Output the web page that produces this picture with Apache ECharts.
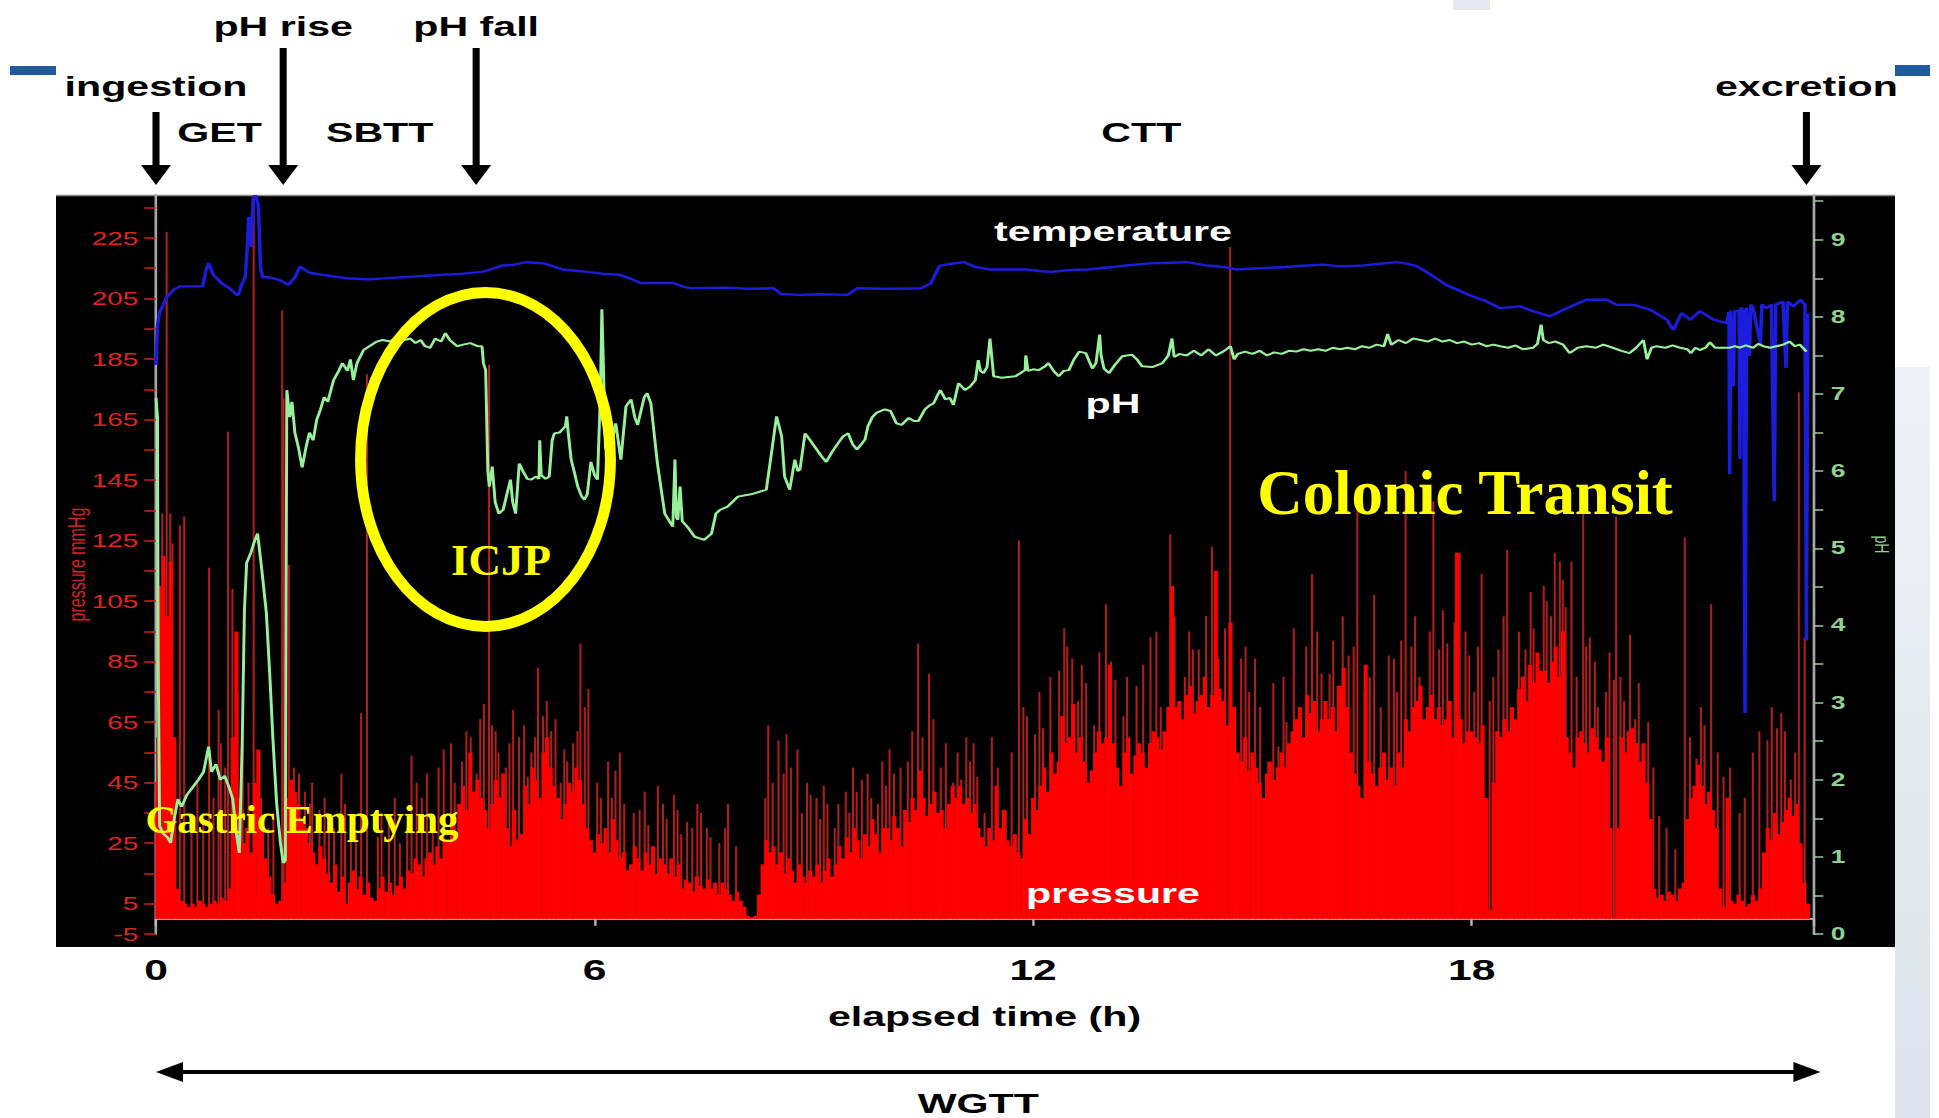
<!DOCTYPE html>
<html>
<head>
<meta charset="utf-8">
<title>Wireless motility capsule recording</title>
<script src="https://cdn.jsdelivr.net/npm/echarts@6/dist/echarts.min.js"></script>
<style>
  html, body { margin: 0; padding: 0; background: #ffffff; overflow: hidden; }
  #chart { position: absolute; left: 0; top: 0; height: 1118px; transform-origin: 0 0; }
</style>
</head>
<body>
<div id="chart"></div>
<script>
// ---- recording data -------------------------------------------------------
// elapsed time axis (h)
const timeMax = 22.67;
const timeTickLabels = [0, 6, 12, 18];
const timeTicks = [0, 6, 12, 18, 22.67];

// pressure axis (mmHg)
const pressureMin = -5;
const pressureMax = 239.2;
const pressureTicks = [-5, 5, 15, 25, 35, 45, 55, 65, 75, 85, 95, 105, 115, 125, 135, 145, 155, 165, 175, 185, 195, 205, 215, 225, 235];
const pressureTickLabels = [-5, 5, 25, 45, 65, 85, 105, 125, 145, 165, 185, 205, 225];

// pH axis
const phMin = 0;
const phMax = 9.58;
const phTicks = [0, 0.5, 1, 1.5, 2, 2.5, 3, 3.5, 4, 4.5, 5, 5.5, 6, 6.5, 7, 7.5, 8, 8.5, 9, 9.5];
const phTickLabels = [0, 1, 2, 3, 4, 5, 6, 7, 8, 9];

// transit landmarks: [label, time (h), label row]
const transitEvents = [
  ['ingestion', 0, 'low'],
  ['pH rise', 1.74, 'high'],
  ['pH fall', 4.38, 'high'],
  ['excretion', 22.58, 'low']
];
const transitPhases = ['GET', 'SBTT', 'CTT'];

// pressure baseline activity, one reading every 3 min (mmHg)
const pressureStart = 0;
const pressureStep = 0.05;
const pressureSamples = [
  45,110,120,100,118,60,10,6,5,4,5,4,6,5,4,5,6,5,7,6,
  10,60,95,40,25,30,22,45,56,30,20,14,8,5,6,12,40,46,42,38,
  33,30,25,22,18,24,20,15,12,18,9,14,5,12,16,10,14,8,12,7,
  6,10,14,9,12,8,11,14,10,16,15,20,18,14,20,22,18,24,20,26,
  26,33,28,38,44,36,55,42,46,40,36,30,38,46,40,48,30,24,36,26,
  28,44,38,50,46,40,55,60,50,44,40,33,38,45,42,50,46,38,30,26,
  22,28,25,30,22,33,26,20,22,16,18,24,20,16,22,18,24,15,20,18,
  15,20,14,18,10,13,12,9,14,11,10,13,10,12,8,12,10,8,6,9,
  6,4,1,0.5,1,8,18,26,22,24,18,22,15,20,16,12,18,14,12,16,
  14,18,12,16,20,14,18,24,20,27,22,30,26,20,28,24,33,28,22,30,
  30,26,34,30,24,36,32,40,36,49,40,34,38,42,35,36,30,38,44,40,
  44,38,40,35,38,30,27,24,30,26,44,30,36,26,24,28,22,20,33,28,
  40,36,44,50,42,55,48,52,67,58,60,71,55,60,52,45,49,55,62,58,
  60,84,58,50,44,55,60,48,54,58,55,50,58,62,60,56,62,70,110,70,
  72,66,74,77,68,72,74,80,70,74,115,76,72,64,98,70,55,52,60,49,
  55,50,45,40,48,52,46,50,55,50,58,62,66,70,60,74,68,72,62,66,
  72,66,70,62,77,83,70,55,48,44,40,84,52,48,44,50,55,46,50,44,
  55,50,66,62,70,72,77,66,70,74,66,70,64,66,72,60,121,66,58,62,
  62,60,58,64,40,3,45,62,60,66,62,70,66,76,80,72,84,78,88,82,
  82,78,85,90,80,95,60,55,50,60,62,58,55,63,60,56,52,60,30,0.5,
  30,60,55,62,63,58,52,58,45,33,10,7,8,6,9,8,6,10,12,33,
  40,44,51,44,38,42,36,30,10,4,40,6,5,8,6,4,5,8,6,10,
  22,30,26,35,28,32,36,40,34,38,25,12,5
];

// individual contraction peaks [h, mmHg]
const pressurePeaks = [
  [0.03,60],[0.1,134],[0.16,227],[0.21,134],[0.24,124],[0.34,130],[0.4,133],[0.5,30],[0.58,45],[0.66,35],[0.74,116],[0.8,40],[0.87,69],[0.9,58],[0.96,50],[1.0,161],[1.06,109],
  [1.13,75],[1.2,60],[1.28,45],[1.35,245],[1.45,40],[1.55,30],[1.62,35],[1.74,201],[1.76,172],[1.83,117],[1.9,50],[1.97,48],[2.05,42],[2.12,38],[2.15,45],[2.25,36],[2.32,40],
  [2.38,34],[2.45,30],[2.55,48],[2.6,38],[2.68,30],[2.75,28],[2.82,68],[2.9,180],[3.05,27],[3.1,35],[3.2,33],[3.28,40],[3.35,25],[3.45,30],[3.51,54],[3.58,45],[3.65,40],
  [3.72,48],[3.8,33],[3.88,50],[3.95,56],[4.05,58],[4.1,45],[4.2,52],[4.26,62],[4.32,60],[4.4,48],[4.45,66],[4.5,71],[4.57,183],[4.61,64],[4.66,62],[4.7,55],[4.8,50],[4.85,58],
  [4.9,69],[4.98,60],[5.05,64],[5.1,47],[5.15,55],[5.2,60],[5.24,83],[5.31,67],[5.36,72],[5.42,62],[5.48,66],[5.55,45],[5.6,56],[5.64,52],[5.72,58],[5.78,62],[5.82,91],
  [5.88,70],[5.93,76],[6.05,45],[6.1,40],[6.2,52],[6.25,40],[6.3,49],[6.36,55],[6.42,38],[6.55,35],[6.63,36],[6.7,42],[6.75,31],[6.88,44],[6.95,38],[7.0,33],[7.1,41],
  [7.15,36],[7.2,28],[7.28,32],[7.35,30],[7.42,38],[7.47,35],[7.55,30],[7.6,27],[7.72,25],[7.8,30],[7.84,38],[7.95,24],[8.35,40],[8.39,64],[8.45,45],[8.53,59],[8.6,48],
  [8.64,61],[8.7,50],[8.79,56],[8.85,35],[8.92,45],[8.97,41],[9.05,40],[9.1,33],[9.15,44],[9.2,38],[9.3,30],[9.35,38],[9.45,42],[9.5,35],[9.55,50],[9.6,42],[9.67,46],
  [9.75,48],[9.8,40],[9.89,38],[9.95,52],[10.0,44],[10.05,56],[10.11,48],[10.2,50],[10.3,52],[10.36,62],[10.44,91],[10.5,60],[10.59,81],[10.65,66],[10.75,50],[10.82,58],
  [10.92,45],[10.98,55],[11.03,46],[11.1,60],[11.15,52],[11.2,58],[11.25,47],[11.35,35],[11.45,60],[11.53,50],[11.64,36],[11.72,55],[11.82,125],[11.88,70],[11.93,67],
  [12.04,61],[12.1,75],[12.15,63],[12.25,80],[12.37,82],[12.44,96],[12.48,90],[12.55,86],[12.63,72],[12.68,84],[12.74,78],[12.85,64],[12.92,88],[13.01,104],[13.08,85],
  [13.14,79],[13.25,67],[13.3,80],[13.43,77],[13.52,84],[13.62,93],[13.7,95],[13.76,70],[13.89,127],[13.95,100],[14.09,80],[14.15,95],[14.2,89],[14.28,89],[14.38,100],
  [14.46,123],[14.55,86],[14.64,96],[14.71,222],[14.86,86],[14.92,90],[14.97,75],[15.05,86],[15.12,70],[15.23,52],[15.3,78],[15.37,57],[15.44,80],[15.48,65],[15.58,96],
  [15.67,66],[15.75,90],[15.83,114],[15.9,95],[15.96,81],[16.07,81],[16.12,92],[16.18,77],[16.25,100],[16.33,87],[16.4,90],[16.45,138],[16.55,75],[16.62,80],[16.68,107],
  [16.77,70],[16.88,87],[16.95,86],[16.99,75],[17.05,92],[17.11,148],[17.19,90],[17.24,100],[17.3,80],[17.39,66],[17.44,95],[17.49,138],[17.57,89],[17.62,102],[17.68,91],
  [17.78,98],[17.85,121],[17.93,95],[17.98,87],[18.05,75],[18.1,90],[18.15,114],[18.26,72],[18.31,80],[18.38,89],[18.45,100],[18.5,122],[18.6,63],[18.66,95],[18.75,89],
  [18.82,108],[18.86,96],[18.93,76],[19.0,110],[19.04,105],[19.1,100],[19.15,121],[19.22,118],[19.26,112],[19.3,103],[19.38,118],[19.45,80],[19.54,135],[19.58,90],[19.63,93],
  [19.7,85],[19.74,70],[19.85,75],[19.9,88],[19.96,79],[19.99,133],[20.05,80],[20.1,72],[20.18,94],[20.25,66],[20.3,78],[20.43,65],[20.5,50],[20.58,34],[20.68,30],[20.8,23],
  [20.93,126],[21.0,60],[21.09,53],[21.15,70],[21.2,64],[21.29,104],[21.38,55],[21.46,47],[21.55,50],[21.68,35],[21.75,40],[21.86,55],[21.95,62],[22.06,59],[22.12,70],
  [22.19,63],[22.25,68],[22.3,62],[22.38,46],[22.44,55],[22.49,174],[22.57,93]
];

// capsule temperature, plotted against the pressure scale [h, value]
const temperatureTrace = [
  [0,183],[0.02,196],[0.05,200.6],[0.1,203],[0.15,205.6],[0.25,208],[0.33,209],[0.5,209],[0.64,209],[0.68,214],[0.72,216.7],[0.78,213],[0.9,210],[1.0,208.5],[1.12,206],
  [1.18,210],[1.22,212],[1.25,222],[1.27,232],[1.3,222],[1.33,238],[1.36,239],[1.4,236],[1.43,215],[1.46,212],[1.55,212],[1.7,211],[1.81,209.5],[1.9,212],[1.97,215.5],
  [2.1,213.5],[2.26,212.9],[2.6,211.7],[2.94,211.3],[3.2,211.8],[3.45,212.1],[3.7,212.5],[3.96,212.9],[4.2,213.2],[4.46,213.8],[4.6,214.8],[4.72,215.8],[4.9,216.2],[5.06,217],
  [5.31,216.6],[5.45,215.5],[5.56,214.6],[5.9,213.8],[6.1,213.2],[6.33,212.9],[6.5,211.5],[6.63,210.1],[7.08,210.1],[7.2,209],[7.31,208.4],[7.8,208.6],[8.1,208.2],[8.45,208.4],
  [8.55,206.5],[8.8,206.2],[9.1,206.4],[9.46,206.2],[9.6,208.4],[10.0,208.2],[10.47,208.4],[10.6,210],[10.72,215.8],[10.85,216.4],[11.06,217],[11.2,215.5],[11.4,214.6],
  [11.91,214.6],[12.1,214],[12.25,213.8],[12.5,214.4],[12.75,214.6],[13.09,215.4],[13.3,216],[13.6,216.6],[13.85,216.8],[14.1,217],[14.35,216],[14.61,215.4],[14.78,214.6],
  [15.1,215],[15.46,215.4],[15.7,215.8],[15.97,216.2],[16.2,215.6],[16.47,215.8],[16.7,216.4],[16.98,217],[17.1,216.5],[17.24,215.8],[17.4,213.5],[17.49,212.1],[17.65,209.5],
  [17.83,207.6],[18.0,205.8],[18.17,204.4],[18.39,201.8],[18.66,202.4],[18.84,200.8],[19.07,199.1],[19.3,201.8],[19.57,204.6],[19.85,204.6],[19.98,202.9],[20.21,202.9],
  [20.44,201.3],[20.67,198],[20.76,194.6],[20.87,200.2],[20.99,198],[21.12,200.8],[21.31,198],[21.49,196.9],[21.52,200.5],[21.53,147],[21.545,201],[21.58,176],[21.6,200.8],
  [21.66,201],[21.67,152],[21.685,202],[21.72,201],[21.74,68],[21.76,202],[21.8,186],[21.82,203],[21.85,201.8],[21.95,190],[21.97,203],[22.03,201.8],[22.1,203],[22.14,138],
  [22.16,203],[22.26,204],[22.3,182],[22.32,204],[22.4,202.4],[22.5,204.6],[22.56,203],[22.58,92],[22.6,200]
];

// luminal pH [h, pH]
const phTrace = [
  [0,6.95],[0.02,6.7],[0.03,3.5],[0.05,1.4],[0.1,1.3],[0.16,1.25],[0.2,1.18],[0.25,1.5],[0.3,1.75],[0.35,1.65],[0.42,1.8],[0.5,1.9],[0.58,2.0],[0.65,2.1],[0.72,2.43],[0.76,2.1],
  [0.82,2.2],[0.88,2.0],[0.94,2.05],[1.0,1.9],[1.05,1.75],[1.1,1.3],[1.14,1.05],[1.18,2.5],[1.21,4.2],[1.24,4.81],[1.3,4.95],[1.35,5.1],[1.39,5.19],[1.45,4.7],[1.51,4.16],
  [1.56,3.3],[1.6,2.52],[1.65,1.7],[1.7,1.2],[1.74,0.92],[1.77,0.95],[1.78,4.5],[1.79,7.05],[1.83,6.7],[1.86,6.9],[1.9,6.5],[1.95,6.3],[2.0,6.05],[2.05,6.3],[2.1,6.5],
  [2.15,6.4],[2.2,6.67],[2.25,6.8],[2.3,6.96],[2.35,6.9],[2.43,7.18],[2.5,7.3],[2.55,7.4],[2.62,7.3],[2.66,7.45],[2.7,7.18],[2.75,7.4],[2.84,7.57],[2.92,7.62],[3.02,7.68],
  [3.1,7.7],[3.2,7.68],[3.3,7.74],[3.4,7.7],[3.48,7.72],[3.55,7.66],[3.62,7.7],[3.68,7.62],[3.75,7.6],[3.82,7.72],[3.9,7.68],[3.96,7.79],[4.02,7.7],[4.12,7.62],[4.2,7.64],
  [4.3,7.66],[4.4,7.62],[4.46,7.62],[4.48,7.4],[4.51,7.31],[4.54,6.0],[4.56,5.8],[4.6,6.06],[4.64,5.6],[4.69,5.45],[4.75,5.5],[4.8,5.7],[4.85,5.89],[4.88,5.6],[4.92,5.45],
  [4.97,6.1],[5.02,6.0],[5.08,5.9],[5.13,5.89],[5.2,5.93],[5.24,5.9],[5.25,6.4],[5.27,5.95],[5.33,5.9],[5.38,5.93],[5.42,6.4],[5.45,6.49],[5.52,6.5],[5.6,6.58],[5.62,6.71],
  [5.64,6.5],[5.68,6.15],[5.72,6.0],[5.77,5.8],[5.82,5.68],[5.86,5.63],[5.9,5.7],[5.95,6.12],[6.0,5.95],[6.04,5.89],[6.08,7.0],[6.1,8.1],[6.12,7.4],[6.15,6.3],[6.2,6.2],
  [6.29,6.62],[6.36,6.15],[6.43,6.84],[6.5,6.93],[6.55,6.7],[6.59,6.6],[6.64,6.8],[6.68,6.96],[6.72,7.01],[6.77,6.88],[6.86,6.1],[6.96,5.45],[7.07,5.28],[7.1,6.15],[7.12,5.4],
  [7.14,5.37],[7.17,5.8],[7.2,5.35],[7.27,5.28],[7.37,5.15],[7.5,5.11],[7.6,5.19],[7.66,5.45],[7.72,5.5],[7.82,5.54],[7.96,5.67],[8.14,5.7],[8.35,5.76],[8.42,6.23],[8.49,6.71],
  [8.52,6.6],[8.56,6.45],[8.6,5.93],[8.67,5.76],[8.74,6.15],[8.78,6.0],[8.81,6.02],[8.88,6.49],[8.95,6.4],[9.01,6.32],[9.1,6.2],[9.17,6.12],[9.25,6.25],[9.33,6.36],[9.4,6.45],
  [9.47,6.49],[9.53,6.35],[9.59,6.28],[9.65,6.35],[9.7,6.41],[9.74,6.58],[9.8,6.7],[9.86,6.76],[9.97,6.8],[10.05,6.78],[10.13,6.62],[10.2,6.6],[10.3,6.69],[10.37,6.65],
  [10.43,6.65],[10.52,6.8],[10.58,6.85],[10.64,6.88],[10.7,7.0],[10.73,7.05],[10.8,6.93],[10.86,6.95],[10.91,6.86],[10.98,7.14],[11.07,7.05],[11.14,7.1],[11.21,7.18],
  [11.25,7.44],[11.28,7.3],[11.32,7.27],[11.37,7.35],[11.41,7.72],[11.46,7.23],[11.57,7.21],[11.66,7.22],[11.76,7.23],[11.84,7.28],[11.89,7.31],[11.9,7.5],[11.93,7.3],
  [12.0,7.32],[12.08,7.31],[12.15,7.35],[12.21,7.4],[12.28,7.3],[12.35,7.23],[12.42,7.3],[12.49,7.31],[12.56,7.45],[12.63,7.55],[12.72,7.53],[12.81,7.33],[12.86,7.4],
  [12.91,7.77],[12.93,7.5],[12.97,7.33],[13.04,7.27],[13.12,7.38],[13.22,7.49],[13.35,7.51],[13.42,7.45],[13.49,7.36],[13.63,7.35],[13.77,7.4],[13.85,7.5],[13.9,7.72],
  [13.93,7.48],[14.0,7.52],[14.1,7.5],[14.2,7.56],[14.3,7.5],[14.4,7.58],[14.5,7.5],[14.6,7.55],[14.7,7.62],[14.75,7.45],[14.8,7.52],[14.9,7.55],[15.0,7.52],[15.1,7.56],
  [15.2,7.5],[15.3,7.54],[15.4,7.52],[15.5,7.56],[15.6,7.55],[15.7,7.58],[15.8,7.56],[15.9,7.58],[16.0,7.56],[16.1,7.6],[16.2,7.58],[16.3,7.6],[16.4,7.58],[16.5,7.62],
  [16.6,7.6],[16.7,7.64],[16.8,7.62],[16.85,7.78],[16.9,7.64],[17.0,7.7],[17.1,7.66],[17.2,7.72],[17.3,7.7],[17.4,7.68],[17.5,7.72],[17.6,7.68],[17.7,7.7],[17.8,7.66],
  [17.9,7.68],[18.0,7.64],[18.1,7.66],[18.2,7.62],[18.3,7.64],[18.39,7.62],[18.5,7.6],[18.6,7.63],[18.7,7.58],[18.84,7.6],[18.9,7.65],[18.95,7.9],[18.98,7.7],[19.05,7.66],
  [19.15,7.68],[19.25,7.64],[19.34,7.53],[19.45,7.6],[19.57,7.62],[19.7,7.6],[19.8,7.64],[19.93,7.6],[20.05,7.56],[20.16,7.53],[20.25,7.6],[20.35,7.7],[20.4,7.45],[20.46,7.6],
  [20.53,7.62],[20.65,7.6],[20.75,7.63],[20.85,7.6],[20.95,7.58],[21.0,7.53],[21.06,7.6],[21.12,7.57],[21.2,7.6],[21.26,7.67],[21.33,7.6],[21.4,7.6],[21.53,7.6],[21.6,7.62],
  [21.67,7.6],[21.75,7.63],[21.85,7.6],[21.92,7.65],[21.99,7.62],[22.08,7.6],[22.17,7.62],[22.26,7.64],[22.35,7.68],[22.42,7.62],[22.49,7.64],[22.55,7.58],[22.58,7.55]
];

// ---- layout ---------------------------------------------------------------
// The trace figure is drawn on a narrower canvas and stretched sideways to
// the page width; overlays that should keep their shape are counter-scaled.
const PAGE_W = 1939;
const STRETCH = 1.47;
const chartW = PAGE_W / STRETCH;
const fx = px => px / STRETCH;          // page x -> chart x

const el = document.getElementById('chart');
el.style.width = chartW + 'px';
el.style.transform = 'scaleX(' + STRETCH + ')';

const SANS = 'Arial, "Liberation Sans", sans-serif';
const SERIF = '"Times New Roman", "Liberation Serif", serif';

const chart = echarts.init(el, null, { renderer: 'svg', width: chartW, height: 1118 });

const pressureBand = pressureSamples.map((v, i) => [+(pressureStart + i * pressureStep).toFixed(2), v]);
const gridLeft = fx(156);
const gridRight = fx(PAGE_W - 1813);
const sampleBarWidth = (chartW - gridLeft - gridRight) * pressureStep / timeMax + 0.3;

const option = {
  animation: false,
  backgroundColor: 'transparent',
  textStyle: { fontFamily: SANS },
  grid: { left: gridLeft, right: gridRight, top: 195, bottom: 184 },
  xAxis: {
    type: 'value', min: 0, max: timeMax, offset: 2,
    axisLine: { show: true, lineStyle: { color: '#a8a8a8', width: 1.8 } },
    axisTick: { show: true, length: 7, lineStyle: { color: '#b8b8b8', width: 1.6 }, customValues: timeTicks },
    axisLabel: { color: '#000', fontSize: 29, fontWeight: 'bold', margin: 20, customValues: timeTickLabels },
    splitLine: { show: false },
    name: 'elapsed time (h)', nameLocation: 'middle', nameGap: 66,
    nameTextStyle: { color: '#000', fontSize: 28, fontWeight: 'bold' }
  },
  yAxis: [
    {
      type: 'value', position: 'left', min: pressureMin, max: pressureMax,
      axisLine: { show: true, lineStyle: { color: '#a8a8a8', width: 1.8 } },
      axisTick: { show: true, length: 8, lineStyle: { color: '#d42020', width: 1.5 }, customValues: pressureTicks },
      axisLabel: { color: '#e02222', fontSize: 19, margin: 12, customValues: pressureTickLabels },
      splitLine: { show: false },
      name: 'pressure mmHg', nameLocation: 'middle', nameGap: 46, nameRotate: 90, nameMoveOverlap: false,
      nameTextStyle: { color: '#d42020', fontSize: 16 }
    },
    {
      type: 'value', position: 'right', min: phMin, max: phMax,
      axisLine: { show: true, lineStyle: { color: '#a8a8a8', width: 1.8 } },
      axisTick: { show: true, length: 7, lineStyle: { color: '#9cc89c', width: 1.5 }, customValues: phTicks },
      axisLabel: { color: '#90d090', fontSize: 18, fontWeight: 'bold', margin: 12, customValues: phTickLabels },
      splitLine: { show: false },
      name: 'pH', nameLocation: 'middle', nameGap: 40, nameRotate: -90,
      nameTextStyle: { color: '#90d090', fontSize: 14, padding: [0, 40, 0, 0] }
    }
  ],
  series: [
    {
      name: 'pressure peaks', type: 'bar', yAxisIndex: 0, data: pressurePeaks,
      barWidth: 1.4, barGap: '-100%', itemStyle: { color: '#b01d1d' }, z: 2, silent: true, clip: true
    },
    {
      name: 'pressure', type: 'bar', yAxisIndex: 0, data: pressureBand,
      barWidth: sampleBarWidth, barGap: '-100%', itemStyle: { color: '#ff0000' }, z: 3, silent: true
    },
    {
      name: 'temperature', type: 'line', yAxisIndex: 0, data: temperatureTrace, symbol: 'none',
      lineStyle: { color: '#1c1cdc', width: 2.4 }, z: 4, silent: true, clip: true
    },
    {
      name: 'pH', type: 'line', yAxisIndex: 1, data: phTrace, symbol: 'none',
      lineStyle: { color: '#98f09a', width: 2 }, z: 5, silent: true
    }
  ]
};
chart.setOption(option);

// ---- annotations ----------------------------------------------------------
const xAt = t => chart.convertToPixel({ xAxisIndex: 0 }, t);

function label(text, x, y, size, color) {
  return {
    type: 'text', x: x, y: y, z: 60,
    style: {
      text: text, fill: color, font: 'bold ' + size + 'px ' + SANS,
      align: 'center', verticalAlign: 'middle', textAlign: 'center', textVerticalAlign: 'middle'
    }
  };
}

function downArrow(x, top) {
  return [
    { type: 'rect', z: 60, shape: { x: x - 2.4, y: top, width: 4.8, height: 166 - top }, style: { fill: '#000' } },
    { type: 'polygon', z: 60, shape: { points: [[x - 10.2, 165], [x + 10.2, 165], [x, 185]] }, style: { fill: '#000' } }
  ];
}

const graphics = [];

// black recorder panel and slide trim
graphics.push({ type: 'rect', z: -10, shape: { x: fx(56), y: 195, width: fx(1895) - fx(56), height: 752 }, style: { fill: '#000' } });
graphics.push({ type: 'line', z: -9, shape: { x1: fx(56), y1: 195.5, x2: fx(1895), y2: 195.5 }, style: { stroke: '#8a8a8a', lineWidth: 1.5 } });
graphics.push({ type: 'rect', z: -10, shape: { x: fx(1895), y: 367, width: fx(35), height: 751 },
  style: { fill: new echarts.graphic.LinearGradient(0, 0, 0, 1, [{ offset: 0, color: '#eef1f5' }, { offset: 1, color: '#dde3eb' }]) } });
graphics.push({ type: 'rect', z: -10, shape: { x: fx(1453), y: 0, width: fx(37), height: 10 }, style: { fill: '#e6eaf0' } });
graphics.push({ type: 'rect', z: 60, shape: { x: fx(10), y: 66, width: fx(46), height: 9 }, style: { fill: '#1f5a9e' } });
graphics.push({ type: 'rect', z: 60, shape: { x: fx(1895), y: 65, width: fx(35), height: 11 }, style: { fill: '#1f5a9e' } });

// transit landmarks and phases
const eventX = transitEvents.map(e => xAt(e[1]));
transitEvents.forEach((e, i) => {
  const high = e[2] === 'high';
  graphics.push(label(e[0], eventX[i], high ? 26 : 86, 28, '#000'));
  graphics.push.apply(graphics, downArrow(eventX[i], high ? 48 : 112));
});
transitPhases.forEach((p, i) => {
  graphics.push(label(p, (eventX[i] + eventX[i + 1]) / 2, 132, 28, '#000'));
});

// whole-gut transit span
const spanL = eventX[0];
const spanR = eventX[eventX.length - 1] + fx(14);
graphics.push({ type: 'rect', z: 60, shape: { x: spanL + 5, y: 1070, width: spanR - spanL - 10, height: 4 }, style: { fill: '#000' } });
graphics.push({ type: 'polygon', z: 60, shape: { points: [[spanL, 1072], [spanL + fx(27), 1062], [spanL + fx(27), 1082]] }, style: { fill: '#000' } });
graphics.push({ type: 'polygon', z: 60, shape: { points: [[spanR, 1072], [spanR - fx(27), 1062], [spanR - fx(27), 1082]] }, style: { fill: '#000' } });
graphics.push(label('WGTT', (spanL + spanR) / 2 - fx(10), 1103, 28, '#000'));

// trace names inside the panel
const traceLabelX = fx(1113);
graphics.push(label('temperature', traceLabelX, 231, 28, '#fff'));
graphics.push(label('pH', traceLabelX, 403, 28, '#fff'));
graphics.push(label('pressure', traceLabelX, 893, 28, '#fff'));

// highlighted segments (kept unstretched)
const unstretch = { scaleX: 1 / STRETCH };
graphics.push(Object.assign({
  type: 'ellipse', z: 70, x: fx(485.5), y: 459.4,
  shape: { cx: 0, cy: 0, rx: 125, ry: 167 },
  style: { fill: 'none', stroke: '#ffff00', lineWidth: 11 }
}, unstretch));
function serifLabel(text, px, y, size) {
  return Object.assign({
    type: 'text', x: fx(px), y: y, z: 70,
    style: {
      text: text, fill: '#ffff00', font: 'bold ' + size + 'px ' + SERIF,
      align: 'center', verticalAlign: 'middle', textAlign: 'center', textVerticalAlign: 'middle'
    }
  }, unstretch);
}
graphics.push(serifLabel('ICJP', 501, 560, 45));
graphics.push(serifLabel('Gastric Emptying', 302, 819, 41));
graphics.push(serifLabel('Colonic Transit', 1465, 493, 63));

chart.setOption({ graphic: graphics });
</script>
</body>
</html>
